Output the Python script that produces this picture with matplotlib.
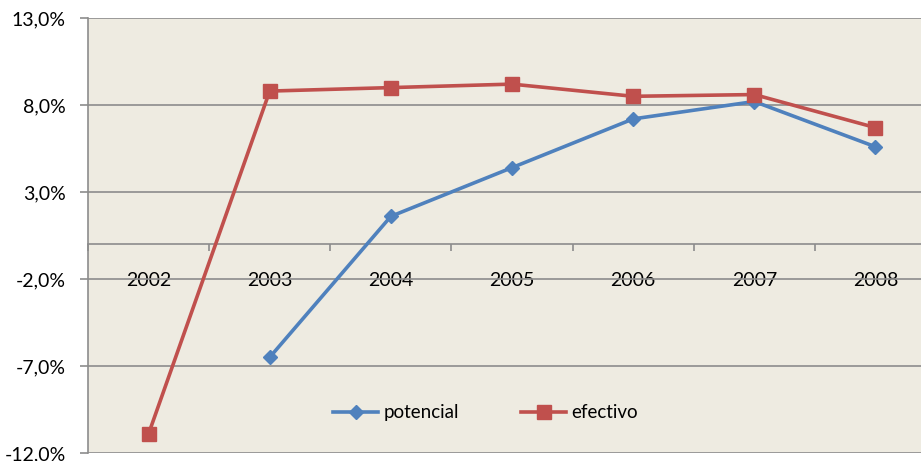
import matplotlib.pyplot as plt
from matplotlib.ticker import FixedLocator

# Data (percent)
years = ['2002', '2003', '2004', '2005', '2006', '2007', '2008']
potencial = [None, -6.5, 1.6, 4.4, 7.2, 8.2, 5.6]
efectivo = [-10.9, 8.8, 9.0, 9.2, 8.5, 8.6, 6.7]
yticks = [-12, -7, -2, 3, 8, 13]

plt.rcParams['font.family'] = ['Lato', 'DejaVu Sans']

fig = plt.figure(figsize=(9.21, 4.61), dpi=100)
ax = fig.add_axes([88 / 921, 8 / 461, 848 / 921, 435 / 461])
ax.set_facecolor('#EEEBE1')

x = list(range(len(years)))
px = [i for i, v in zip(x, potencial) if v is not None]
pv = [v for v in potencial if v is not None]

ax.plot(px, pv, color='#4F81BD', lw=2.6, marker='D', ms=7.5,
        label='potencial', zorder=3)
ax.plot(x, efectivo, color='#C0504D', lw=2.6, marker='s', ms=9.5,
        label='efectivo', zorder=3)

ax.set_xlim(-0.5, 6.5)
ax.set_ylim(-12, 13)
ax.set_yticks(yticks)
ax.set_yticklabels([f'{t:.1f}'.replace('.', ',') + '%' for t in yticks], fontsize=14)
ax.yaxis.grid(True, color='#8C8C8C', lw=1.2)
ax.set_axisbelow(True)

ax.spines['top'].set_visible(False)
ax.spines['right'].set_visible(False)
ax.spines['left'].set_color('#8C8C8C')
ax.spines['left'].set_linewidth(1.2)
ax.spines['bottom'].set_position(('data', 0))
ax.spines['bottom'].set_color('#8C8C8C')
ax.spines['bottom'].set_linewidth(1.2)

ax.set_xticks(x)
ax.set_xticklabels(years, fontsize=14)
ax.xaxis.set_minor_locator(FixedLocator([i - 0.5 for i in range(len(years) + 1)]))
ax.tick_params(axis='x', which='major', length=0, pad=20)
ax.tick_params(axis='x', which='minor', length=5, color='#8C8C8C', width=1.2)
ax.tick_params(axis='y', length=6, color='#8C8C8C', width=1.2, pad=10)

ax.legend(loc='center', bbox_to_anchor=(0.469, 0.092), ncol=2, frameon=False,
          fontsize=13.5, handlelength=2.4, columnspacing=3.3, handletextpad=0.3)

fig.savefig('out.png', dpi=100)
